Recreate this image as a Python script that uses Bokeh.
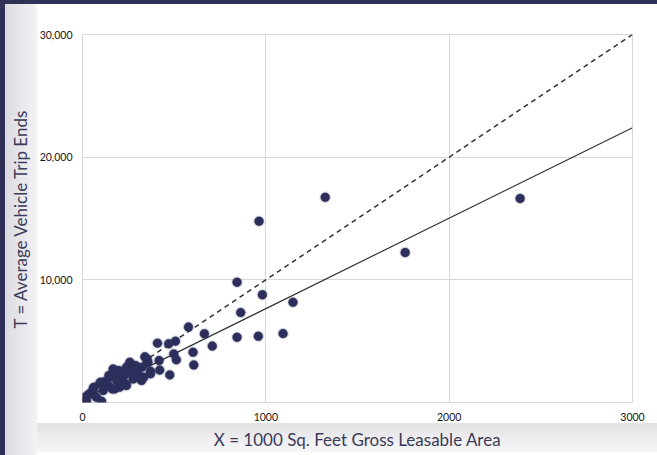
from bokeh.plotting import figure
from bokeh.models import Range1d, FixedTicker
from bokeh.embed import file_html
from bokeh.resources import INLINE

# ---- data ----
area_x = [2387, 1760, 1324, 963, 843, 981, 1148, 863, 1094, 959, 843, 665, 708, 578,
          603, 607, 512, 498, 507, 470, 409, 418, 421, 476, 340, 357, 371, 334, 322,
          276, 303, 285, 325, 289, 258, 240, 253, 213, 185, 167, 198, 149, 189, 234,
          240, 203, 176, 140, 94, 98, 113, 58, 62, 40, 76, 13, 22, 104, 34, 162, 144,
          371, 316, 352, 228, 270, 120, 300]
trips_y = [16630, 12225, 16730, 14780, 9800, 8780, 8170, 7330, 5620, 5400, 5320, 5600,
           4600, 6150, 4100, 3060, 3480, 3960, 5000, 4780, 4840, 3420, 2640, 2250, 3720,
           3290, 2550, 2060, 1790, 1920, 2060, 2740, 2880, 3020, 3290, 2880, 2470, 1920,
           2340, 2740, 2610, 2060, 1790, 1520, 1390, 1250, 1110, 1390, 1520, 1650, 980,
           1110, 1250, 710, 430, 430, 150, 100, 650, 1110, 2200, 2340, 2060, 3560, 2200,
           2400, 1700, 2500]

line_x = [0, 3000]
fit_slope, fit_intercept = 7.375, 275       # fitted curve
avg_rate = 10.0                              # average rate line
fit_y = [fit_slope * v + fit_intercept for v in line_x]
rate_y = [avg_rate * v for v in line_x]

x_ticks = [0, 1000, 2000, 3000]
x_tick_labels = {0: "0", 1000: "1000", 2000: "2000", 3000: "3000"}
y_ticks = [10000, 20000, 30000]
y_tick_labels = {10000: "10,000", 20000: "20,000", 30000: "30,000"}

x_title = "X = 1000 Sq. Feet Gross Leasable Area"
y_title = "T = Average Vehicle Trip Ends"

# ---- figure ----
navy = "#2f3157"
bg = (f"linear-gradient({navy}, {navy}) 0 0 / 100% 4px no-repeat, "
      f"linear-gradient({navy}, {navy}) 0 0 / 5px 100% no-repeat, "
      "linear-gradient(to right, #dadae0, #ececf0 70%, #f3f3f5) 5px 0 / 32px 100% no-repeat, "
      "linear-gradient(to bottom, #e2e2e5, #efeff1 60%, #f6f6f7) 37px 423px / 100% 29px no-repeat, "
      "#ffffff")

p = figure(frame_width=550, frame_height=368,
           min_border_left=82, min_border_right=25, min_border_top=34, min_border_bottom=53,
           x_range=Range1d(0, 3000), y_range=Range1d(0, 30000),
           output_backend="svg", toolbar_location=None,
           background_fill_color="white", border_fill_color=None,
           outline_line_color="#d8d8d8", styles={"background": bg})

for ax in (p.xaxis[0], p.yaxis[0]):
    ax.axis_line_color = None
    ax.major_tick_line_color = None
    ax.minor_tick_line_color = None
    ax.major_label_text_font = "Lato"
    ax.major_label_text_font_size = "10.5px"
    ax.major_label_text_color = "#151515"
    ax.major_label_standoff = 4
    ax.axis_label_text_font = "Lato"
    ax.axis_label_text_font_size = "17px"
    ax.axis_label_text_font_style = "normal"
    ax.axis_label_text_color = "#3b3b58"

p.xaxis.ticker = FixedTicker(ticks=x_ticks)
p.xaxis.major_label_overrides = x_tick_labels
p.yaxis.ticker = FixedTicker(ticks=y_ticks)
p.yaxis.major_label_overrides = y_tick_labels
p.xaxis.axis_label = x_title
p.yaxis.axis_label = y_title
p.xaxis.axis_label_standoff = 5
p.yaxis.axis_label_standoff = 6

p.xgrid.ticker = FixedTicker(ticks=x_ticks)
p.ygrid.ticker = FixedTicker(ticks=[0] + y_ticks)
p.xgrid.grid_line_color = "#d8d8d8"
p.ygrid.grid_line_color = "#d8d8d8"

p.line(line_x, rate_y, line_color="#333333", line_width=1.5, line_dash="5 4")
p.line(line_x, fit_y, line_color="#333333", line_width=1.2)

p.scatter(area_x, trips_y, size=12, fill_color="#2c2f5b", fill_alpha=0.12, line_color=None)
p.scatter(area_x, trips_y, size=9, fill_color="#2c2f5b", line_color="#2c2f5b",
          line_alpha=0.5, line_width=0.8)

open("out.html", "w").write(file_html(p, INLINE))
